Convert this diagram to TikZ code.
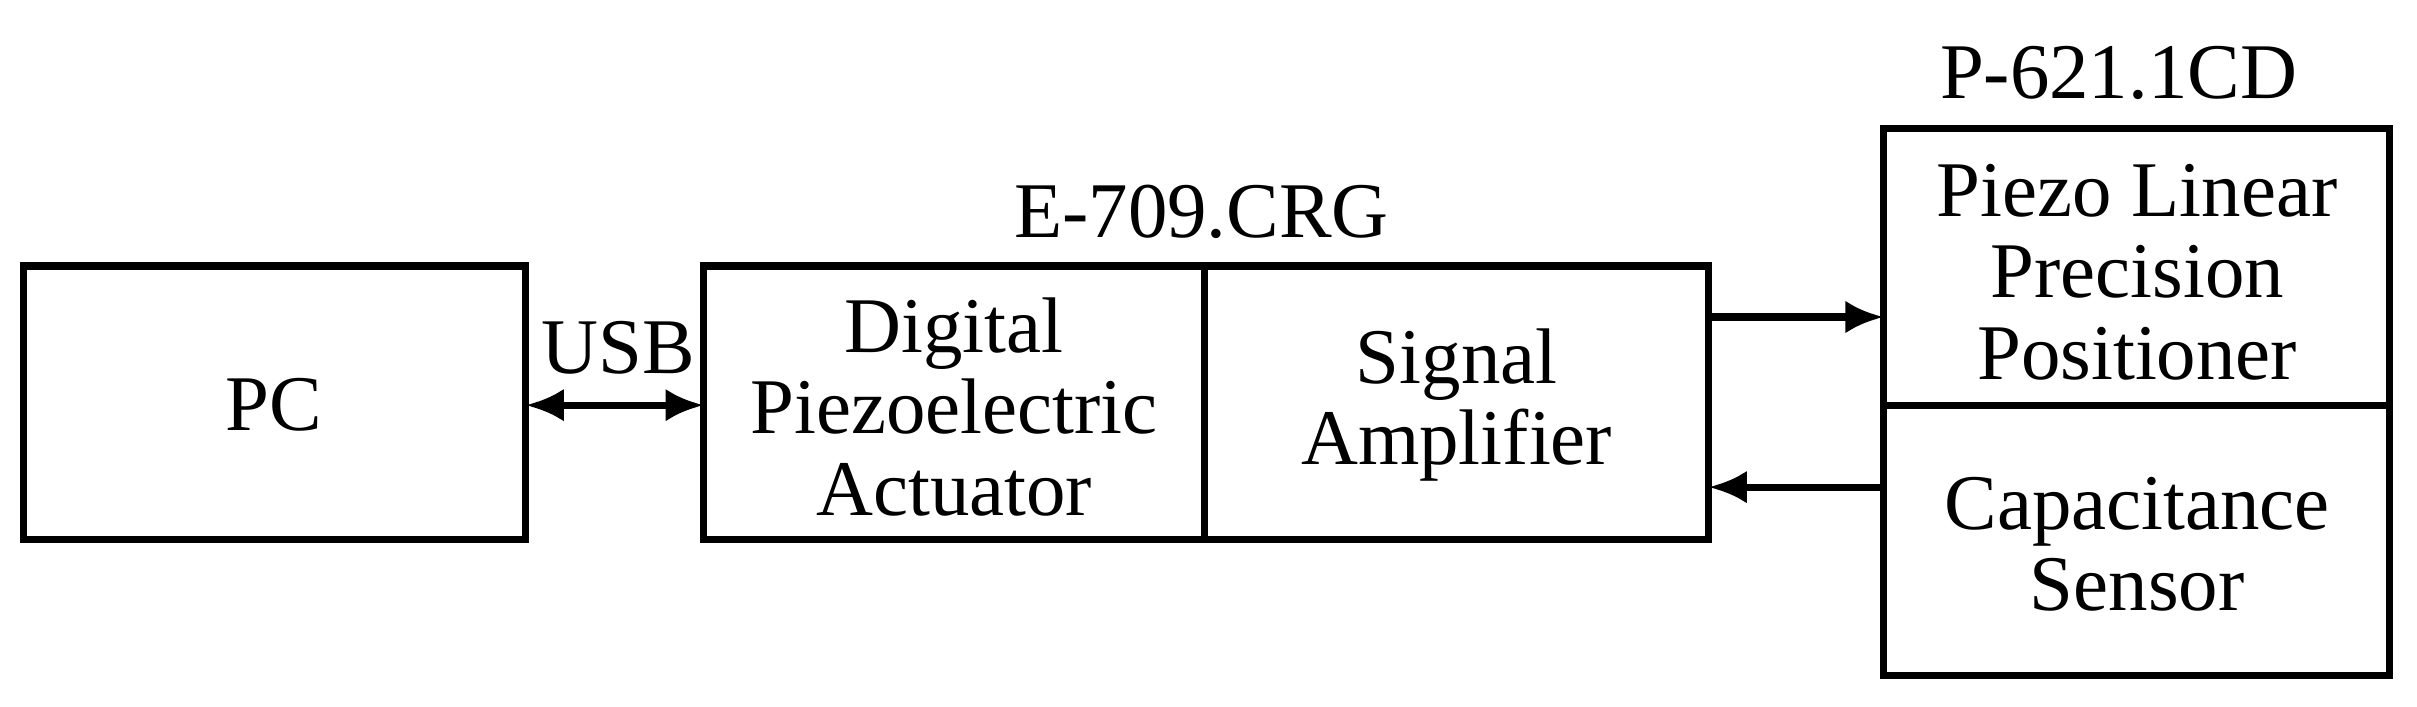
\documentclass[tikz,border=0pt]{standalone}
\usepackage{fontspec}
\setmainfont{Liberation Serif}
\usetikzlibrary{arrows.meta}
\begin{document}
\begin{tikzpicture}[x=0.01cm,y=-0.01cm,
  box/.style={draw,line width=1.3pt},
  lbl/.style={font=\fontsize{14.5}{16}\selectfont,align=center},
  arr/.style={line width=1.3pt,-{Latex[length=7pt,width=6pt]}}]
\useasboundingbox (0,0) rectangle (1563,457);
\draw[box] (15,172) rectangle (340,349);
\node[lbl] (pc) at (177,262) {PC};
\coordinate (pcR) at (340,262);
\draw[box] (455,172) rectangle (1105,349);
\draw[box] (779,172) -- (779,349);
\node[lbl,text width=5cm,inner sep=0pt] (dpa) at (617,263) {Digital\\[-1pt]Piezoelectric\\[-1pt]Actuator};
\node[lbl] (sa) at (942,262) {Signal\\[-1pt]Amplifier};
\coordinate (mL) at (455,262);
\coordinate (mR1) at (1105,205);
\coordinate (mR2) at (1105,315);
\node[lbl] (e709) at (777,137) {E-709.CRG};
\draw[box] (1218,83) rectangle (1545,437);
\draw[box] (1218,262) -- (1545,262);
\node[lbl] (plp) at (1382,176) {Piezo Linear\\[-1pt]Precision\\[-1pt]Positioner};
\node[lbl] (cs) at (1382,352) {Capacitance\\[-1pt]Sensor};
\node[lbl] (p621) at (1370,47) {P-621.1CD};
\coordinate (rL1) at (1218,205);
\coordinate (rL2) at (1218,315);
\node[lbl] (usb) at (400,225) {USB};
\draw[line width=1.3pt,{Latex[length=7pt,width=6pt]}-{Latex[length=7pt,width=6pt]}] (pcR) -- (mL);
\draw[arr] (mR1) -- (rL1);
\draw[arr] (rL2) -- (mR2);
\end{tikzpicture}
\end{document}
